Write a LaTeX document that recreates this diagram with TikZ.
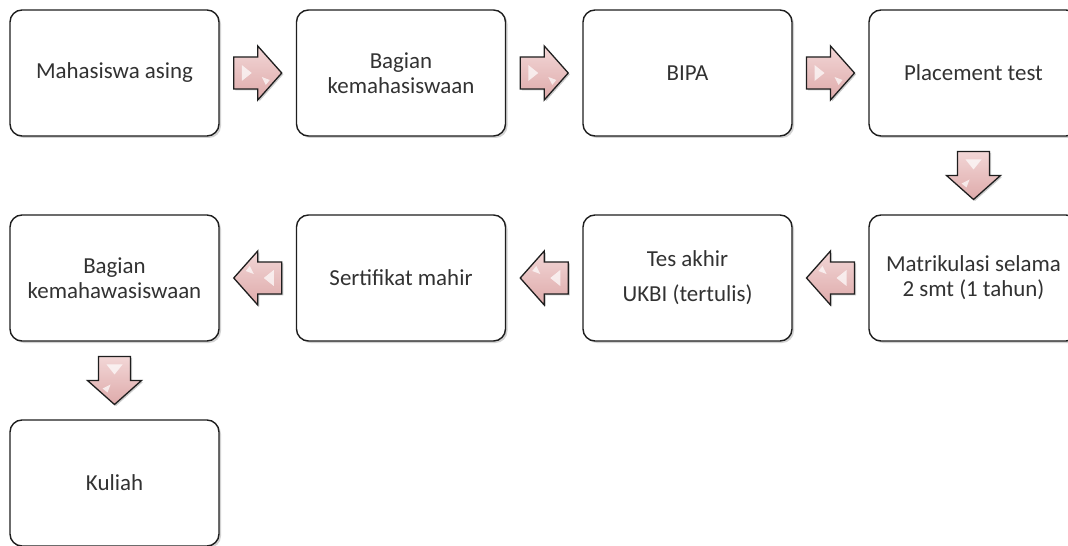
\documentclass[tikz,border=0pt]{standalone}
\usepackage{fontspec}
\setmainfont{Carlito}
\usetikzlibrary{shadows,calc}
\definecolor{txt}{RGB}{50,50,50}
\definecolor{pinkA}{RGB}{242,214,214}
\definecolor{pinkB}{RGB}{222,170,170}
\definecolor{edge}{RGB}{30,30,30}
\tikzset{
  box/.style={draw=edge, line width=1.4bp, rounded corners=12bp, fill=white,
    minimum width=209bp, minimum height=126bp, inner sep=0pt, align=center,
    text=txt, font=\fontsize{23}{25}\selectfont,
    drop shadow={shadow xshift=2bp, shadow yshift=-2bp, fill=black!35, opacity=.5}},
  blockarrow/.style={draw=edge, line width=1.3bp, line join=miter,
    top color=pinkA, bottom color=pinkB,
    drop shadow={shadow xshift=1.5bp, shadow yshift=-1.5bp, fill=black!40, opacity=.5}},
  pics/barrow/.style={code={
    \path[blockarrow] (-24,-16) -- (0,-16) -- (0,-27) -- (24,0) -- (0,27) -- (0,16) -- (-24,16) -- cycle;
    \fill[white, opacity=.7] (-16,-8) -- (-6,0) -- (-16,8) -- cycle;
    \fill[white, opacity=.7] (4,4) -- (12,7) -- (8,12) -- cycle;
  }}
}
\begin{document}
\begin{tikzpicture}[x=1bp,y=-1bp]
\useasboundingbox (0,0) rectangle (1068,546);
\clip (0,0) rectangle (1068,546);
% row 1
\node[box] (b1) at (114.5,73) {Mahasiswa asing};
\node[box] (b2) at (401,73) {Bagian\\kemahasiswaan};
\node[box] (b3) at (687.5,73) {BIPA};
\node[box] (b4) at (973.5,73) {Placement test};
% row 2
\node[box] (b5) at (973.5,278) {Matrikulasi selama\\2 smt (1 tahun)};
\node[box] (b6) at (687.5,278) {Tes akhir\\[10bp]UKBI (tertulis)};
\node[box] (b7) at (401,278) {Sertifikat mahir};
\node[box] (b8) at (114.5,278) {Bagian\\kemahawasiswaan};
% row 3
\node[box] (b9) at (114.5,483) {Kuliah};
% block arrows
\pic at ($(b1.east)!0.5!(b2.west)$) {barrow};
\pic at ($(b2.east)!0.5!(b3.west)$) {barrow};
\pic at ($(b3.east)!0.5!(b4.west)$) {barrow};
\pic[rotate=-90] at ($(b4.south)!0.5!(b5.north)$) {barrow};
\pic[rotate=180] at ($(b5.west)!0.5!(b6.east)$) {barrow};
\pic[rotate=180] at ($(b6.west)!0.5!(b7.east)$) {barrow};
\pic[rotate=180] at ($(b7.west)!0.5!(b8.east)$) {barrow};
\pic[rotate=-90] at ($(b8.south)!0.5!(b9.north)$) {barrow};
\end{tikzpicture}
\end{document}
